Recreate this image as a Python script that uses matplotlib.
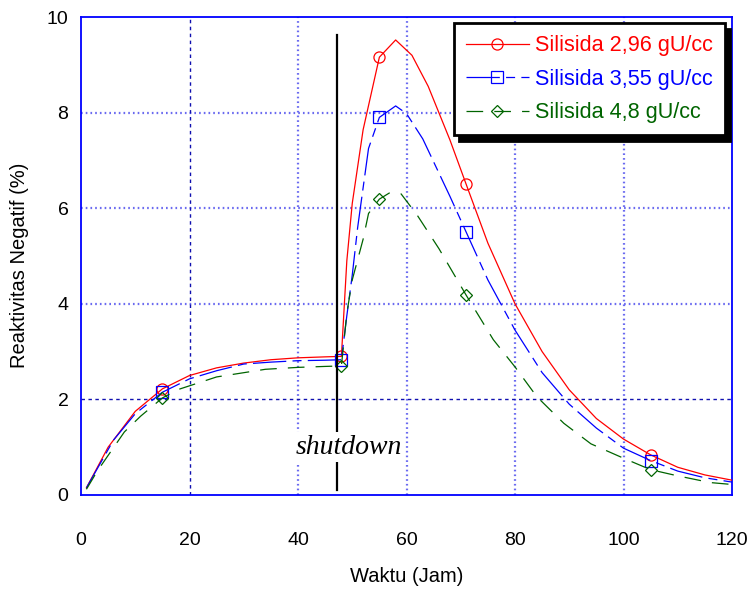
import matplotlib
matplotlib.use('Agg')
import matplotlib.pyplot as plt

plt.rcParams['font.family'] = ['Liberation Sans', 'DejaVu Sans']
plt.rcParams['lines.scale_dashes'] = False

# ---- data ----
t_296 = [1, 5, 10, 15, 20, 25, 30, 35, 40, 45, 48, 49, 50, 52, 55, 58, 61, 64, 68, 71,
         75, 80, 85, 90, 95, 100, 105, 110, 115, 120]
r_296 = [0.15, 1.0, 1.75, 2.22, 2.5, 2.66, 2.76, 2.83, 2.87, 2.89, 2.9, 4.9, 6.1, 7.64, 9.16, 9.52, 9.2, 8.55, 7.43, 6.5,
         5.27, 4.0, 3.0, 2.2, 1.6, 1.17, 0.84, 0.58, 0.42, 0.31]

t_355 = [1, 6, 10, 15, 20, 25, 30, 35, 40, 45, 48, 49, 50, 51, 53, 55, 58, 60, 63, 68, 71,
         75, 80, 85, 90, 95, 100, 105, 110, 115, 120]
r_355 = [0.15, 1.15, 1.7, 2.15, 2.43, 2.6, 2.74, 2.78, 2.81, 2.82, 2.83, 3.75, 4.6, 5.6, 7.25, 7.9, 8.14, 7.98, 7.45, 6.25, 5.5,
         4.5, 3.45, 2.56, 1.9, 1.4, 0.98, 0.72, 0.5, 0.36, 0.27]

t_48 = [1, 3, 8, 11, 15, 18, 25, 34, 40, 45, 48, 49, 50, 52, 53, 55, 57, 59, 62, 66, 71,
        76, 80, 84, 89, 94, 100, 105, 110, 116, 120]
r_48 = [0.12, 0.5, 1.32, 1.65, 2.03, 2.21, 2.47, 2.63, 2.67, 2.69, 2.7, 3.8, 4.5, 5.35, 5.89, 6.19, 6.33, 6.3, 5.85, 5.15, 4.18,
        3.25, 2.68, 2.06, 1.5, 1.07, 0.77, 0.53, 0.4, 0.26, 0.22]

marker_t = [15, 48, 55, 71, 105]   # jam yang diberi marker
labels = ['Silisida 2,96 gU/cc', 'Silisida 3,55 gU/cc', 'Silisida 4,8 gU/cc']
SHUTDOWN_T = 47.2

fig = plt.figure(figsize=(7.5, 5.89), dpi=100)
ax = fig.add_axes([0.108, 0.1596, 0.868, 0.8115])

# grid (biru titik-titik, garis 20 jam & 2 % lebih gelap)
for v in [40, 60, 80, 100]:
    ax.axvline(v, color='#6a6af0', lw=1.6, ls=(0, (1.2, 2.2)), zorder=0)
for v in [4, 6, 8]:
    ax.axhline(v, color='#6a6af0', lw=1.6, ls=(0, (1.2, 2.2)), zorder=0)
ax.axvline(20, color='#1010b0', lw=1.0, ls=(0, (2.5, 2.5)), zorder=0)
ax.axhline(2, color='#1010b0', lw=1.0, ls=(0, (2.5, 2.5)), zorder=0)


def idx(t):
    return [t.index(m) for m in marker_t]


ax.plot(t_296, r_296, color='#ff0000', lw=0.9, marker='o', ms=8, mfc='none', mew=0.9,
        markevery=idx(t_296), label=labels[0], zorder=3)
ax.plot(t_355, r_355, color='#0000ff', lw=0.9, dashes=(24, 4.5, 6.5, 4.5), marker='s', ms=8, mfc='none',
        mew=0.9, markevery=idx(t_355), label=labels[1], zorder=3)
ax.plot(t_48, r_48, color='#006400', lw=0.9, dashes=(12, 8), marker='D', ms=6.5, mfc='none', mew=0.9,
        markevery=idx(t_48), label=labels[2], zorder=3)

# garis shutdown
ax.plot([SHUTDOWN_T, SHUTDOWN_T], [0.1, 9.62], color='black', lw=1.6, zorder=4)
ax.text(49.4, 1.0, 'shutdown', family=['Liberation Serif'], style='italic', fontsize=20,
        ha='center', va='center', zorder=5,
        bbox=dict(facecolor='white', edgecolor='none', pad=2))

ax.set_xlim(0, 120)
ax.set_ylim(0, 10)
ax.set_xticks([0, 20, 40, 60, 80, 100, 120])
ax.set_yticks([0, 2, 4, 6, 8, 10])
ax.tick_params(axis='x', length=0, pad=27, labelsize=14)
ax.tick_params(axis='y', length=0, pad=9, labelsize=14)
for s in ax.spines.values():
    s.set_color('#0000ff')
    s.set_linewidth(1.3)

ax.set_xlabel('Waktu (Jam)', fontsize=14.5)
ax.set_ylabel('Reaktivitas Negatif (%)', fontsize=14.5)
ax.xaxis.set_label_coords(0.5, -0.15)
ax.yaxis.set_label_coords(-0.08, 0.48)

leg = ax.legend(loc='upper right', bbox_to_anchor=(0.989, 0.987), borderaxespad=0,
                fontsize=15.6, labelcolor='linecolor', fancybox=False, framealpha=1,
                edgecolor='black', handlelength=2.9, handletextpad=0.3, labelspacing=0.58,
                borderpad=0.55, shadow={'color': 'black', 'alpha': 1, 'ox': 3.5, 'oy': -4.5})
leg.get_frame().set_linewidth(2)
leg.set_zorder(10)

plt.savefig('out.png', dpi=100)
plt.close()
